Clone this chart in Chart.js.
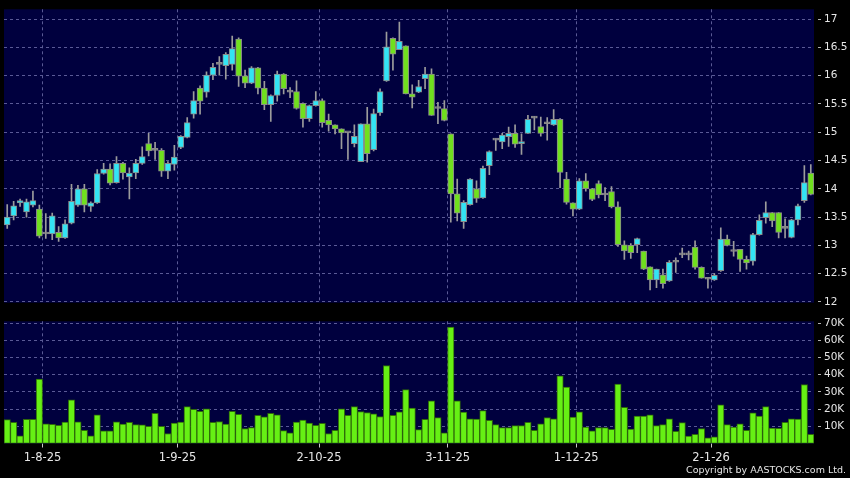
<!DOCTYPE html>
<html>
<head>
<meta charset="utf-8">
<title>Daily chart</title>
<script src="https://cdn.jsdelivr.net/npm/chart.js@4.4.1/dist/chart.umd.min.js"></script>
<style>
    html, body { margin: 0; padding: 0; background: #000; }
    #wrap { position: relative; width: 850px; height: 478px; background: #000; overflow: hidden; }
    canvas { position: absolute; left: 0; background: #000; }
    #priceChart { top: 0; }
    #volumeChart { top: 312px; }
    #copyright {
        position: absolute; right: 4px; top: 465px;
        font: 9.5px/10px "DejaVu Sans", sans-serif; color: #e6e6e6; white-space: nowrap;
    }
</style>
</head>
<body>
<div id="wrap">
    <canvas id="priceChart" width="850" height="312"></canvas>
    <canvas id="volumeChart" width="850" height="166"></canvas>
    <div id="copyright">Copyright by AASTOCKS.com Ltd.</div>
</div>
<script>
// trading days, D-M-YY
const dates = [
    '24-7-25', '25-7-25', '28-7-25', '29-7-25', '30-7-25', '31-7-25',
    '1-8-25', '4-8-25', '5-8-25', '6-8-25', '7-8-25', '8-8-25', '11-8-25', '12-8-25', '13-8-25', '14-8-25', '15-8-25',
    '18-8-25', '19-8-25', '20-8-25', '21-8-25', '22-8-25', '25-8-25', '26-8-25', '27-8-25', '28-8-25', '29-8-25',
    '1-9-25', '2-9-25', '3-9-25', '4-9-25', '5-9-25', '8-9-25', '9-9-25', '10-9-25', '11-9-25', '12-9-25',
    '15-9-25', '16-9-25', '17-9-25', '18-9-25', '19-9-25', '22-9-25', '23-9-25', '24-9-25', '25-9-25', '26-9-25',
    '29-9-25', '30-9-25',
    '2-10-25', '3-10-25', '6-10-25', '8-10-25', '9-10-25', '10-10-25', '13-10-25', '14-10-25', '15-10-25', '16-10-25',
    '17-10-25', '20-10-25', '21-10-25', '22-10-25', '23-10-25', '24-10-25', '27-10-25', '28-10-25', '30-10-25', '31-10-25',
    '3-11-25', '4-11-25', '5-11-25', '6-11-25', '7-11-25', '10-11-25', '11-11-25', '12-11-25', '13-11-25', '14-11-25',
    '17-11-25', '18-11-25', '19-11-25', '20-11-25', '21-11-25', '24-11-25', '25-11-25', '26-11-25', '27-11-25', '28-11-25',
    '1-12-25', '2-12-25', '3-12-25', '4-12-25', '5-12-25', '8-12-25', '9-12-25', '10-12-25', '11-12-25', '12-12-25',
    '15-12-25', '16-12-25', '17-12-25', '18-12-25', '19-12-25', '22-12-25', '23-12-25', '24-12-25', '29-12-25', '30-12-25',
    '31-12-25',
    '2-1-26', '5-1-26', '6-1-26', '7-1-26', '8-1-26', '9-1-26', '12-1-26', '13-1-26', '14-1-26', '15-1-26',
    '16-1-26', '19-1-26', '20-1-26', '21-1-26', '22-1-26', '23-1-26'
];

const opens = [
    13.36, 13.52, 13.75, 13.59, 13.71, 13.64, 13.20, 13.20, 13.23, 13.13,
    13.39, 13.71, 14.00, 13.69, 13.75, 14.27, 14.35, 14.11, 14.45, 14.21,
    14.28, 14.45, 14.80, 14.68, 14.68, 14.31, 14.43, 14.73, 14.91, 15.32,
    15.78, 15.71, 16.01, 16.20, 16.18, 16.20, 16.65, 16.00, 15.87, 16.14,
    15.78, 15.49, 15.65, 16.03, 15.71, 15.72, 15.51, 15.24, 15.47, 15.56,
    15.21, 15.13, 15.06, 14.99, 14.80, 14.48, 15.15, 14.69, 15.34, 15.91,
    16.66, 16.46, 16.53, 15.68, 15.71, 15.95, 16.03, 15.42, 15.42, 14.97,
    13.91, 13.42, 13.72, 14.00, 13.84, 14.41, 14.86, 14.83, 14.92, 14.98,
    14.80, 14.98, 15.25, 15.10, 15.15, 15.13, 15.23, 14.17, 13.75, 13.64,
    14.14, 14.00, 14.09, 13.89, 13.95, 13.68, 13.01, 13.00, 13.01, 12.90,
    12.62, 12.39, 12.48, 12.37, 12.70, 12.83, 12.83, 12.97, 12.61, 12.40,
    12.39, 12.55, 13.11, 12.89, 12.93, 12.75, 12.72, 13.19, 13.49, 13.58,
    13.58, 13.30, 13.14, 13.45, 13.79, 14.28
];
const highs = [
    13.72, 13.78, 13.82, 13.82, 13.96, 13.71, 13.56, 13.57, 13.33, 13.45,
    14.08, 14.06, 14.08, 13.77, 14.34, 14.45, 14.44, 14.57, 14.47, 14.37,
    14.52, 14.74, 14.98, 14.82, 14.71, 14.48, 14.77, 14.94, 15.26, 15.72,
    15.82, 16.07, 16.22, 16.34, 16.41, 16.70, 16.67, 16.10, 16.16, 16.15,
    15.90, 15.66, 16.08, 16.04, 15.79, 15.91, 15.52, 15.48, 15.72, 15.59,
    15.32, 15.13, 15.06, 15.00, 15.13, 15.15, 15.44, 15.41, 15.77, 16.77,
    16.67, 16.95, 16.53, 15.84, 15.92, 16.15, 16.12, 15.53, 15.56, 14.97,
    14.17, 13.79, 14.18, 14.14, 14.40, 14.67, 14.89, 14.98, 15.09, 15.13,
    14.97, 15.30, 15.28, 15.27, 15.26, 15.40, 15.24, 14.29, 13.75, 14.18,
    14.27, 14.01, 14.14, 14.02, 14.04, 13.77, 13.08, 13.03, 13.13, 12.90,
    12.62, 12.58, 12.58, 12.73, 12.78, 12.95, 12.90, 13.08, 12.62, 12.42,
    12.50, 13.31, 13.18, 13.07, 12.93, 12.81, 13.21, 13.54, 13.77, 13.58,
    13.58, 13.47, 13.46, 13.73, 14.41, 14.43
];
const lows = [
    13.30, 13.45, 13.69, 13.50, 13.68, 13.13, 13.12, 13.10, 13.07, 13.12,
    13.38, 13.69, 13.59, 13.60, 13.74, 14.26, 14.07, 14.10, 14.17, 13.82,
    14.18, 14.43, 14.58, 14.52, 14.22, 14.18, 14.33, 14.71, 14.90, 15.25,
    15.32, 15.62, 15.93, 16.01, 15.94, 16.10, 15.81, 15.79, 15.86, 15.68,
    15.40, 15.19, 15.55, 15.68, 15.61, 15.41, 15.09, 15.19, 15.46, 15.09,
    15.02, 14.97, 14.71, 14.52, 14.74, 14.48, 14.47, 14.67, 15.30, 15.90,
    16.10, 16.46, 15.68, 15.43, 15.70, 15.77, 15.30, 15.15, 15.20, 13.41,
    13.43, 13.30, 13.71, 13.76, 13.83, 14.25, 14.68, 14.71, 14.75, 14.73,
    14.61, 14.98, 15.04, 14.93, 14.86, 15.12, 14.02, 13.73, 13.52, 13.63,
    13.96, 13.79, 13.84, 13.79, 13.66, 12.98, 12.75, 12.77, 12.87, 12.57,
    12.21, 12.25, 12.24, 12.36, 12.52, 12.78, 12.74, 12.58, 12.42, 12.24,
    12.38, 12.54, 12.99, 12.81, 12.54, 12.58, 12.65, 13.18, 13.39, 13.33,
    13.13, 13.13, 13.13, 13.36, 13.76, 13.89
];
const closes = [
    13.50, 13.70, 13.79, 13.77, 13.79, 13.16, 13.20, 13.52, 13.13, 13.38,
    13.78, 14.00, 13.71, 13.75, 14.27, 14.35, 14.10, 14.45, 14.28, 14.28,
    14.45, 14.57, 14.67, 14.68, 14.31, 14.45, 14.56, 14.93, 15.17, 15.56,
    15.55, 16.01, 16.15, 16.20, 16.38, 16.48, 15.99, 15.87, 16.14, 15.78,
    15.49, 15.65, 16.03, 15.77, 15.71, 15.42, 15.24, 15.47, 15.56, 15.17,
    15.13, 15.06, 14.99, 14.99, 14.93, 15.15, 14.62, 15.33, 15.72, 16.51,
    16.38, 16.61, 15.68, 15.62, 15.81, 16.03, 15.30, 15.42, 15.21, 13.91,
    13.57, 13.76, 14.17, 13.83, 14.36, 14.66, 14.86, 14.95, 14.98, 14.79,
    14.83, 15.23, 15.25, 14.98, 15.15, 15.23, 14.29, 13.76, 13.64, 14.14,
    14.00, 13.81, 13.89, 13.89, 13.68, 13.01, 12.90, 12.87, 13.12, 12.58,
    12.39, 12.58, 12.32, 12.70, 12.70, 12.83, 12.83, 12.61, 12.42, 12.40,
    12.47, 13.11, 13.00, 12.89, 12.75, 12.69, 13.19, 13.44, 13.58, 13.43,
    13.23, 13.30, 13.45, 13.70, 14.11, 13.90
];
const volumes = [
    13900, 12300, 4500, 14000, 14000, 37400, 11500, 11100, 10600, 12500,
    25400, 12600, 7700, 4500, 16600, 7300, 7300, 12600, 11300, 12300,
    11000, 10800, 10000, 17600, 10000, 5800, 11900, 12500, 21400, 19900,
    18700, 20100, 12300, 12800, 11300, 18700, 17000, 8700, 9200, 16300,
    15500, 17600, 16600, 7500, 6200, 12500, 13600, 11900, 10600, 11700,
    5800, 7700, 20100, 16300, 21400, 18600, 18000, 17200, 15700, 45300,
    16300, 18400, 31300, 20600, 8100, 14000, 24800, 15000, 6200, 67600,
    24800, 18200, 14400, 14200, 19100, 13400, 11000, 9200, 9200, 10400,
    10400, 12300, 7700, 11500, 15100, 14400, 39300, 32800, 15300, 18400,
    9600, 7300, 9200, 9200, 8300, 34500, 21000, 8400, 15900, 15900,
    16600, 10400, 11000, 14400, 7100, 12100, 4300, 5400, 8700, 3300,
    3900, 22500, 11000, 9600, 11500, 7700, 17800, 15900, 21400, 9000,
    8800, 12300, 14400, 14200, 34300, 5400
];

const tickDates = ['1-8-25', '1-9-25', '2-10-25', '3-11-25', '1-12-25', '2-1-26'];
const priceTicks = [12, 12.5, 13, 13.5, 14, 14.5, 15, 15.5, 16, 16.5, 17];
const volumeTicks = [10000, 20000, 30000, 40000, 50000, 60000, 70000];

(function () {
    const PLOT_BG = '#00003e';
    const GRID = '#5a5a96';
    const UP = '#33e4f4';
    const DOWN = '#70e01e';
    const FLAT = '#8c8c8c';
    const EDGE = '#8a8a8a';
    const VOL = '#66f014';
    const VOL_EDGE = '#2f6a0a';
    const TEXT = '#e6e6e6';
    const AXIS_W = 36;

    const isTickDate = i => tickDates.includes(dates[i]);
    const candleColor = i => closes[i] > opens[i] ? UP : (closes[i] < opens[i] ? DOWN : FLAT);

    const plotBg = {
        id: 'plotBg',
        beforeDraw(chart) {
            const { ctx, chartArea: a } = chart;
            ctx.save();
            ctx.fillStyle = PLOT_BG;
            ctx.fillRect(a.left, a.top, a.right - a.left, a.bottom - a.top);
            ctx.restore();
        }
    };

    const monthGrid = ctx => isTickDate(ctx.index) ? GRID : 'rgba(0,0,0,0)';

    const yAxis = (min, max, ticks, fmt) => ({
        position: 'right',
        min,
        max,
        afterBuildTicks: s => { s.ticks = ticks.map(v => ({ value: v })); },
        afterFit: s => { s.width = AXIS_W; },
        grid: {
            color: GRID,
            tickColor: '#b0b0b0',
            tickLength: 7,
            tickBorderDash: [0, 4, 3, 40]
        },
        border: { display: false, dash: [3, 3] },
        ticks: {
            color: TEXT,
            padding: 3,
            font: { family: 'DejaVu Sans', size: 10.5 },
            callback: fmt
        }
    });

    Chart.defaults.animation = false;

    new Chart(document.getElementById('priceChart'), {
        type: 'bar',
        data: {
            labels: dates,
            datasets: [{
                label: 'Body',
                data: opens.map((o, i) => [o, closes[i]]),
                backgroundColor: ctx => candleColor(ctx.dataIndex),
                borderColor: EDGE,
                borderWidth: 1,
                borderSkipped: false,
                barThickness: 6,
                minBarLength: 2,
                grouped: false,
                order: 1
            }, {
                label: 'Range',
                data: lows.map((l, i) => [l, highs[i]]),
                backgroundColor: '#9c9c9c',
                barThickness: 1,
                grouped: false,
                order: 2
            }]
        },
        options: {
            responsive: false,
            layout: { padding: { left: 4, top: 6, right: 0, bottom: 6 } },
            plugins: { legend: { display: false }, tooltip: { enabled: false } },
            scales: {
                x: {
                    offset: true,
                    grid: { offset: true, color: monthGrid, drawTicks: false },
                    border: { display: false, dash: [3, 3] },
                    ticks: { display: false, autoSkip: false },
                    afterFit: s => { s.height = 0; }
                },
                y: yAxis(11.985, 17.175, priceTicks, v => String(v))
            }
        },
        plugins: [plotBg]
    });

    new Chart(document.getElementById('volumeChart'), {
        type: 'bar',
        data: {
            labels: dates,
            datasets: [{
                label: 'Volume',
                data: volumes,
                backgroundColor: VOL,
                borderColor: VOL_EDGE,
                borderWidth: 1,
                borderSkipped: false,
                barPercentage: 1,
                categoryPercentage: 1
            }]
        },
        options: {
            responsive: false,
            layout: { padding: { left: 4, top: 7, right: 0, bottom: 0 } },
            plugins: { legend: { display: false }, tooltip: { enabled: false } },
            scales: {
                x: {
                    offset: true,
                    grid: { offset: true, color: monthGrid, tickColor: ctx => isTickDate(ctx.index) ? '#c8c8c8' : 'rgba(0,0,0,0)', tickLength: 4 },
                    border: { display: false, dash: [3, 3] },
                    ticks: {
                        autoSkip: false,
                        maxRotation: 0,
                        padding: 4,
                        labelOffset: -3.2,
                        color: TEXT,
                        font: { family: 'DejaVu Sans', size: 11.5 },
                        callback: (v, i) => isTickDate(i) ? dates[i] : ''
                    },
                    afterFit: s => { s.height = 34.5; }
                },
                y: yAxis(0, 71000, volumeTicks, v => (v / 1000) + 'K')
            }
        },
        plugins: [plotBg]
    });
})();
</script>
</body>
</html>
